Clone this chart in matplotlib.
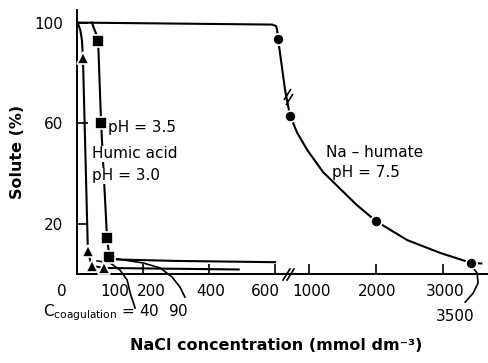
import numpy as np
import matplotlib
matplotlib.use('Agg')
import matplotlib.pyplot as plt
from matplotlib.transforms import ScaledTranslation

plt.rcParams['font.family'] = 'DejaVu Sans'
plt.rcParams['mathtext.default'] = 'regular'

# Na-humate, pH 7.5 (circles) + the drawn curve
humate_x = [635, 775, 2000, 3420]
humate_y = [93.6, 63, 21, 4.4]
humate_line_x = [0, 300, 591, 612, 623, 635, 717, 775, 860, 977, 1207, 1463, 1714, 2000, 2463, 2956, 3420]
humate_line_y = [100, 99.6, 99.2, 98.6, 97.2, 93.6, 73.3, 63, 56.2, 49.4, 40.6, 33.9, 27.4, 21, 13.5, 8.4, 4.4]
humate_tail_x = [3485, 3570]
humate_tail_y = [4.3, 4.2]

# humic acid pH 3.5 (squares)
acid35_x = [64, 73, 91, 98]
acid35_y = [92.5, 60, 14.3, 6.8]
acid35_line_x = [45, 52, 58, 64, 73, 91, 98, 115, 300, 600]
acid35_line_y = [100, 97.5, 95.5, 92.5, 60, 14.3, 6.8, 5.8, 5.2, 4.7]

# humic acid pH 3.0 (triangles)
acid30_x = [18, 33, 45, 82]
acid30_y = [86, 9, 3.2, 2.4]
acid30_line_x = [2, 10, 15, 18, 32, 33, 45, 82, 490]
acid30_line_y = [100, 97, 93, 86, 14, 9, 3.2, 2.4, 1.8]

# pointer curves for the coagulation values
ptr40_x = [176, 161, 152, 130, 100, 61]
ptr40_y = [-13.5, -7.6, -2.4, 1.6, 4.4, 5.2]
ptr90_x = [327, 312, 288, 252, 200, 121]
ptr90_y = [-9.2, -5.2, -1.2, 2.4, 4.4, 6.0]
ptr3500_x = [3330, 3448, 3522, 3507, 3448]
ptr3500_y = [-11.2, -7.6, -3.6, 0.4, 2.4]

xticks = [0, 100, 200, 400, 600, 1000, 2000, 3000]
xtick_shift = [-15, 5, 8, 2, -10, 2, 1, 2]   # px, labels sit a bit off their ticks
yticks = [20, 60, 100]

# broken x axis: 0-600 linear, squeezed gap, then 1000-3500 at a smaller scale
xk = [-5000, 0, 600, 1000, 10000]
fk = [-5000, 0, 600, 703, 703 + 9000 * 0.203]


def fwd(x):
    return np.interp(x, xk, fk)


def inv(f):
    return np.interp(f, fk, xk)


fig = plt.figure(figsize=(4.89, 3.63), dpi=100)
ax = fig.add_axes([77 / 489, (363 - 274) / 363, 412 / 489, 264 / 363])
ax.set_xscale('function', functions=(fwd, inv))
ax.set_xlim(0, 3685)
ax.set_ylim(0, 105)

lw = 1.5
mk = dict(color='k', ms=8, mec='white', mew=1.2, ls='none', zorder=4, clip_on=False)

ax.plot(humate_line_x, humate_line_y, 'k-', lw=lw)
ax.plot(humate_tail_x, humate_tail_y, 'k-', lw=lw)
ax.plot(humate_x, humate_y, marker='o', **mk)

ax.plot(acid35_line_x, acid35_line_y, 'k-', lw=lw)
ax.plot(acid35_x, acid35_y, marker='s', **mk)

ax.plot(acid30_line_x, acid30_line_y, 'k-', lw=lw)
ax.plot(acid30_x, acid30_y, marker='^', **mk)

for px, py in [(ptr40_x, ptr40_y), (ptr90_x, ptr90_y), (ptr3500_x, ptr3500_y)]:
    ax.plot(px, py, 'k-', lw=1.2, clip_on=False)

# break marks on the axis and on the curve
brk = [(-1, -1.6), (1, 1.6)]
ax.plot([730, 775], [0, 0], marker=brk, ms=9, ls='none', color='k', mew=1.2, clip_on=False)
ax.plot([738, 762], [71.5, 69.5], marker=brk, ms=8, ls='none', color='k', mew=1.2, clip_on=False)

for side in ['top', 'right']:
    ax.spines[side].set_visible(False)
for side in ['left', 'bottom']:
    ax.spines[side].set_linewidth(1.4)

ax.set_xticks(xticks)
ax.set_xticklabels([str(v) for v in xticks])
ax.set_yticks(yticks)
ax.set_yticklabels([str(v) for v in yticks])
ax.tick_params(axis='x', direction='in', length=7, width=1.2, pad=7, labelsize=11)
ax.tick_params(axis='y', direction='in', length=8, width=1.2, pad=10, labelsize=11)
ax.minorticks_off()
for t, v in zip(ax.xaxis.get_major_ticks(), xticks):
    if v < 200:
        t.tick1line.set_visible(False)
for lab, dx in zip(ax.get_xticklabels(), xtick_shift):
    lab.set_transform(lab.get_transform() + ScaledTranslation(dx / 100, 0, fig.dpi_scale_trans))

fs = 11
ax.text(94, 58.2, 'pH = 3.5', fontsize=fs, va='center', ha='left')
ax.text(45, 47.8, 'Humic acid', fontsize=fs, va='center', ha='left',
        bbox=dict(fc='white', ec='none', pad=0.5), zorder=5)
ax.text(45, 39, 'pH = 3.0', fontsize=fs, va='center', ha='left',
        bbox=dict(fc='white', ec='none', pad=0.5), zorder=5)
ax.text(1256, 48.2, 'Na – humate', fontsize=fs, va='center', ha='left')
ax.text(1345, 40.2, 'pH = 7.5', fontsize=fs, va='center', ha='left')
ax.text(-103, -15.5, 'C$_{coagulation}$ = 40  90', fontsize=fs, va='center', ha='left')
ax.text(3177, -17, '3500', fontsize=fs, va='center', ha='center')

fig.text(18 / 489, 1 - 152 / 363, 'Solute (%)', rotation=90, fontsize=11.5,
         fontweight='bold', ha='center', va='center')
fig.text(276 / 489, 1 - 345 / 363, 'NaCl concentration (mmol dm⁻³)', fontsize=11.5,
         fontweight='bold', ha='center', va='center')

fig.savefig('out.png', dpi=100)
